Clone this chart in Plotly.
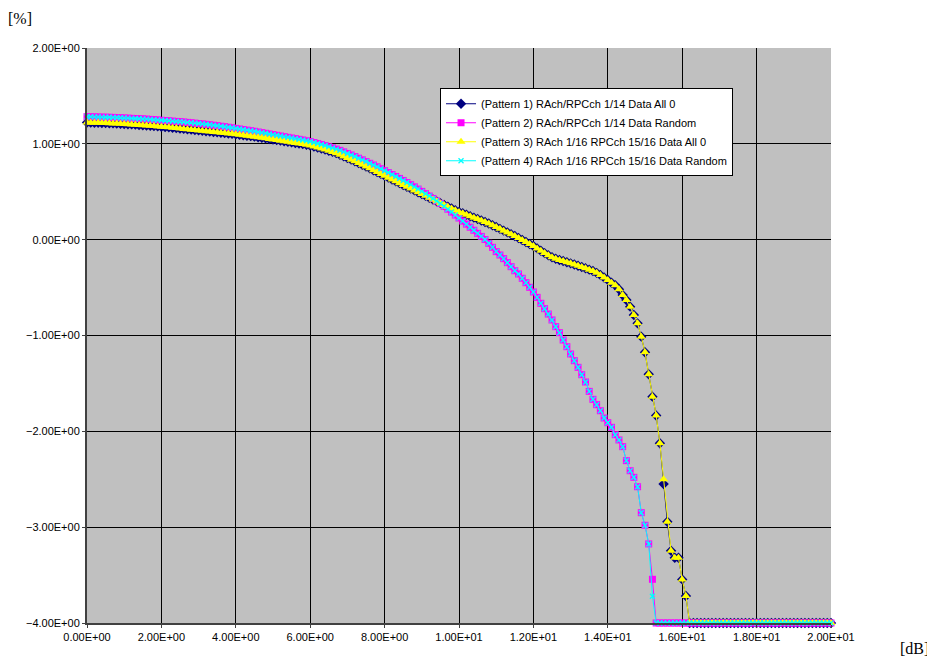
import numpy as np
import plotly.graph_objects as go

# x axis: attenuation [dB], sampled every 0.1 dB from 0 to 20
x_db = [round(i * 0.1, 1) for i in range(201)]

# Pattern 1) RAch/RPCch 1/14 Data All 0
p1 = (
    [1.222, 1.221, 1.220, 1.219, 1.218, 1.217, 1.215, 1.213, 1.211, 1.209,
     1.207, 1.205, 1.203, 1.200, 1.197, 1.194, 1.191, 1.188, 1.185, 1.182, 1.178]
    + [1.175, 1.172, 1.168, 1.164, 1.160, 1.156, 1.152, 1.148, 1.144, 1.140,
       1.136, 1.132, 1.128, 1.124, 1.120, 1.116, 1.112, 1.108, 1.104, 1.100]
    + [1.095, 1.090, 1.085, 1.080, 1.075, 1.069, 1.063, 1.057, 1.051, 1.045,
       1.039, 1.033, 1.027, 1.021, 1.015, 1.009, 1.003, 0.997, 0.990, 0.982]
    + [0.972, 0.962, 0.951, 0.940, 0.928, 0.916, 0.903, 0.886, 0.869, 0.852,
       0.835, 0.817, 0.799, 0.781, 0.763, 0.744, 0.725, 0.706, 0.686, 0.666]
    + [0.647, 0.628, 0.609, 0.590, 0.571, 0.552, 0.533, 0.514, 0.495, 0.476,
       0.457, 0.438, 0.419, 0.400, 0.381, 0.362, 0.344, 0.326, 0.308, 0.290]
    + [0.275, 0.260, 0.245, 0.230, 0.215, 0.200, 0.185, 0.168, 0.150, 0.132,
       0.113, 0.094, 0.076, 0.057, 0.038, 0.018, -0.003, -0.024, -0.045, -0.066]
    + [-0.091, -0.115, -0.140, -0.163, -0.184, -0.199, -0.212, -0.223, -0.235, -0.247,
       -0.259, -0.272, -0.285, -0.299, -0.313, -0.327, -0.346, -0.369, -0.394, -0.421]
    + [-0.449, -0.476, -0.518, -0.577, -0.630, -0.699, -0.786, -0.873, -1.012, -1.175,
       -1.405, -1.638, -1.835, -2.125, -2.550, -2.943, -3.246, -3.319, -3.319, -3.545]
    + [-3.719]
    + [-4.0] * 39
)

# Pattern 3) RAch 1/16 RPCch 15/16 Data All 0
p3 = (
    p1[:155]
    + [-2.500]
    + p1[156:]
)

# Pattern 2) RAch/RPCch 1/14 Data Random
p2 = (
    [1.283, 1.282, 1.281, 1.280, 1.279, 1.278, 1.277, 1.276, 1.274, 1.272,
     1.270, 1.268, 1.266, 1.264, 1.262, 1.260, 1.258, 1.255, 1.252, 1.249, 1.246]
    + [1.243, 1.240, 1.237, 1.234, 1.231, 1.228, 1.224, 1.220, 1.216, 1.212,
       1.208, 1.204, 1.199, 1.194, 1.189, 1.184, 1.179, 1.173, 1.167, 1.161]
    + [1.155, 1.149, 1.143, 1.137, 1.131, 1.124, 1.117, 1.110, 1.103, 1.096,
       1.089, 1.082, 1.075, 1.068, 1.061, 1.054, 1.047, 1.040, 1.032, 1.024]
    + [1.014, 1.004, 0.993, 0.982, 0.970, 0.958, 0.945, 0.932, 0.916, 0.900,
       0.884, 0.867, 0.850, 0.833, 0.815, 0.797, 0.779, 0.760, 0.740, 0.720]
    + [0.700, 0.680, 0.660, 0.639, 0.618, 0.596, 0.574, 0.551, 0.528, 0.504,
       0.480, 0.455, 0.430, 0.404, 0.378, 0.348, 0.318, 0.288, 0.257, 0.226]
    + [0.194, 0.162, 0.130, 0.098, 0.066, 0.034, 0.002]
    + [-0.038, -0.080, -0.125, -0.160, -0.198, -0.240, -0.282, -0.324, -0.358, -0.403,
       -0.449, -0.497, -0.546, -0.602, -0.664, -0.720, -0.776, -0.838, -0.908, -0.971,
       -1.047, -1.117, -1.193, -1.263, -1.332, -1.409, -1.485, -1.583, -1.666, -1.722,
       -1.785, -1.861, -1.910, -1.958, -2.035, -2.090, -2.160, -2.306, -2.411, -2.480,
       -2.578, -2.849, -2.980, -3.175, -3.544]
    + [-4.0] * 48
)

# Pattern 4) RAch 1/16 RPCch 15/16 Data Random
p4 = p2[:152] + [-3.72] + p2[153:]

names = [
    "(Pattern 1) RAch/RPCch 1/14 Data All 0",
    "(Pattern 2) RAch/RPCch 1/14 Data Random",
    "(Pattern 3) RAch 1/16 RPCch 15/16 Data All 0",
    "(Pattern 4) RAch 1/16 RPCch 15/16 Data Random",
]

y_ticks = [2, 1, 0, -1, -2, -3, -4]
y_ticktext = ["2.00E+00", "1.00E+00", "0.00E+00", "\u22121.00E+00",
              "\u22122.00E+00", "\u22123.00E+00", "\u22124.00E+00"]
x_ticks = [0, 2, 4, 6, 8, 10, 12, 14, 16, 18, 20]
x_ticktext = ["0.00E+00", "2.00E+00", "4.00E+00", "6.00E+00", "8.00E+00",
              "1.00E+01", "1.20E+01", "1.40E+01", "1.60E+01", "1.80E+01", "2.00E+01"]

series = [p1, p2, p3, p4]
colors = ["#000080", "#FF00FF", "#FFFF00", "#00FFFF"]
symbols = ["diamond", "square", "triangle-up", "x-thin"]
sizes = [8, 7, 8, 5]

fig = go.Figure()
for ys, nm, c, s, sz in zip(series, names, colors, symbols, sizes):
    assert len(ys) == len(x_db)
    fig.add_trace(go.Scatter(
        x=x_db, y=ys, name=nm, mode="lines+markers",
        line=dict(color=c, width=1),
        marker=dict(symbol=s, size=sz, color=c,
                    line=dict(color=c, width=1.3) if s == "x-thin" else dict(width=0)),
        cliponaxis=False,
    ))

font_sans = "Liberation Sans, Arial, sans-serif"
fig.update_layout(
    width=927, height=649,
    margin=dict(l=79, r=104, t=40, b=34),
    paper_bgcolor="white",
    plot_bgcolor="#C0C0C0",
    font=dict(family=font_sans, size=11, color="black"),
    showlegend=True,
    legend=dict(
        x=0.4745, y=0.930, xanchor="left", yanchor="top",
        bgcolor="white", bordercolor="black", borderwidth=1,
        font=dict(family=font_sans, size=11, color="black"),
        tracegroupgap=0, itemwidth=30,
    ),
    xaxis=dict(
        range=[0, 20], tickvals=x_ticks, ticktext=x_ticktext,
        showgrid=True, gridcolor="black", gridwidth=1,
        showline=True, linecolor="#404040", linewidth=2,
        ticks="outside", ticklen=3, tickcolor="#404040",
        zeroline=False, fixedrange=True,
    ),
    yaxis=dict(
        range=[-4, 2], tickvals=y_ticks, ticktext=y_ticktext,
        showgrid=True, gridcolor="black", gridwidth=1,
        showline=True, linecolor="#404040", linewidth=2,
        ticks="outside", ticklen=3, tickcolor="#404040",
        zeroline=False, fixedrange=True,
    ),
    annotations=[
        dict(text="[%]", xref="paper", yref="paper", x=-0.09, y=1.052,
             xanchor="center", yanchor="middle", showarrow=False,
             font=dict(family="Liberation Serif, Times New Roman, serif", size=16)),
        dict(text="[dB]", xref="paper", yref="paper", x=1.134, y=-0.0435,
             xanchor="right", yanchor="middle", showarrow=False,
             font=dict(family="Liberation Serif, Times New Roman, serif", size=16)),
    ],
)

fig.write_html("out.html")
